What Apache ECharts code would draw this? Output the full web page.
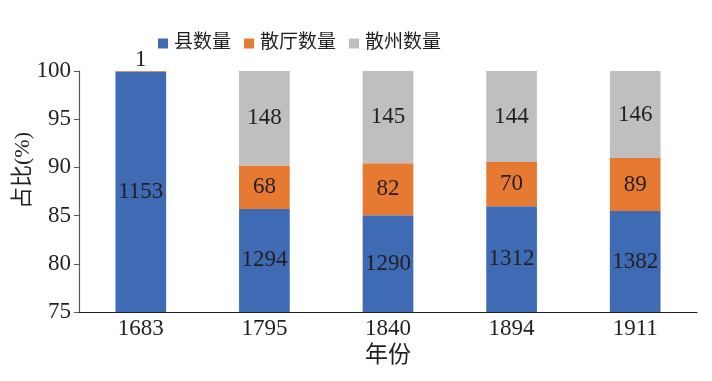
<!DOCTYPE html>
<html><head><meta charset="utf-8">
<script src="https://cdn.jsdelivr.net/npm/echarts@6/dist/echarts.min.js"></script>
<style>html,body{margin:0;padding:0;background:#fff}#c{width:712px;height:381px}</style>
</head><body><div id="c"></div>
<script>
var years = ['1683', '1795', '1840', '1894', '1911'];
var countyCounts = [1153, 1294, 1290, 1312, 1382];
var tingCounts = [1, 68, 82, 70, 89];
var zhouCounts = [0, 148, 145, 144, 146];
var seriesNames = ['县数量', '散厅数量', '散州数量'];
var yTicks = [75, 80, 85, 90, 95, 100];

var FONT = '"Liberation Serif", "Times New Roman", "Noto Sans CJK SC", serif';
var totals = years.map(function (_, i) { return countyCounts[i] + tingCounts[i] + zhouCounts[i]; });
function pct(arr) { return arr.map(function (v, i) { return v / totals[i] * 100; }); }
var counts = [countyCounts, tingCounts, zhouCounts];
var colors = ['#3E6BB4', '#E67A33', '#BFBFBF'];

var series = counts.map(function (arr, s) {
  var p = pct(arr);
  return {
    name: seriesNames[s], type: 'bar', stack: 'a', barCategoryGap: '59%',
    itemStyle: { color: colors[s] },
    data: p.map(function (v, i) {
      var d = { value: v };
      if (s === 1 && i === 0) d.label = { position: 'top', distance: 0 };
      return d;
    }),
    label: {
      show: true, position: 'inside', color: '#231F20', fontFamily: FONT, fontSize: 23,
      formatter: function (pr) { var c = arr[pr.dataIndex]; return c ? String(c) : ''; }
    }
  };
});

var chart = echarts.init(document.getElementById('c'));
chart.setOption({
  animation: false,
  textStyle: { fontFamily: FONT },
  legend: {
    top: 29, left: 153, itemWidth: 10, itemHeight: 10, itemGap: 13,
    icon: 'rect',
    textStyle: { fontSize: 19, color: '#231F20', fontFamily: FONT, padding: [0, 0, 0, 1] },
    data: seriesNames
  },
  grid: { left: 79, right: 15, top: 71, bottom: 69, containLabel: false, outerBoundsMode: 'none' },
  xAxis: {
    type: 'category', data: years,
    name: '年份', nameLocation: 'middle', nameGap: 32, nameMoveOverlap: false,
    nameTextStyle: { fontSize: 23, color: '#231F20', fontFamily: FONT },
    axisLine: { lineStyle: { color: '#231F20', width: 1.2 } },
    axisTick: { show: false },
    axisLabel: { fontSize: 23, color: '#231F20', margin: 5, fontFamily: FONT }
  },
  yAxis: {
    type: 'value', min: yTicks[0], max: yTicks[yTicks.length - 1], interval: 5,
    name: '占比(%)', nameLocation: 'middle', nameGap: 45, nameMoveOverlap: false,
    nameTextStyle: { fontSize: 22, color: '#231F20', fontFamily: FONT, padding: [0, 0, 0, 42] },
    axisLine: { show: true, lineStyle: { color: '#595959', width: 1.2 } },
    axisTick: { show: true, length: 5, lineStyle: { color: '#595959' } },
    splitLine: { show: false },
    axisLabel: { fontSize: 23, color: '#231F20', margin: 8, fontFamily: FONT }
  },
  series: series
});
</script></body></html>
